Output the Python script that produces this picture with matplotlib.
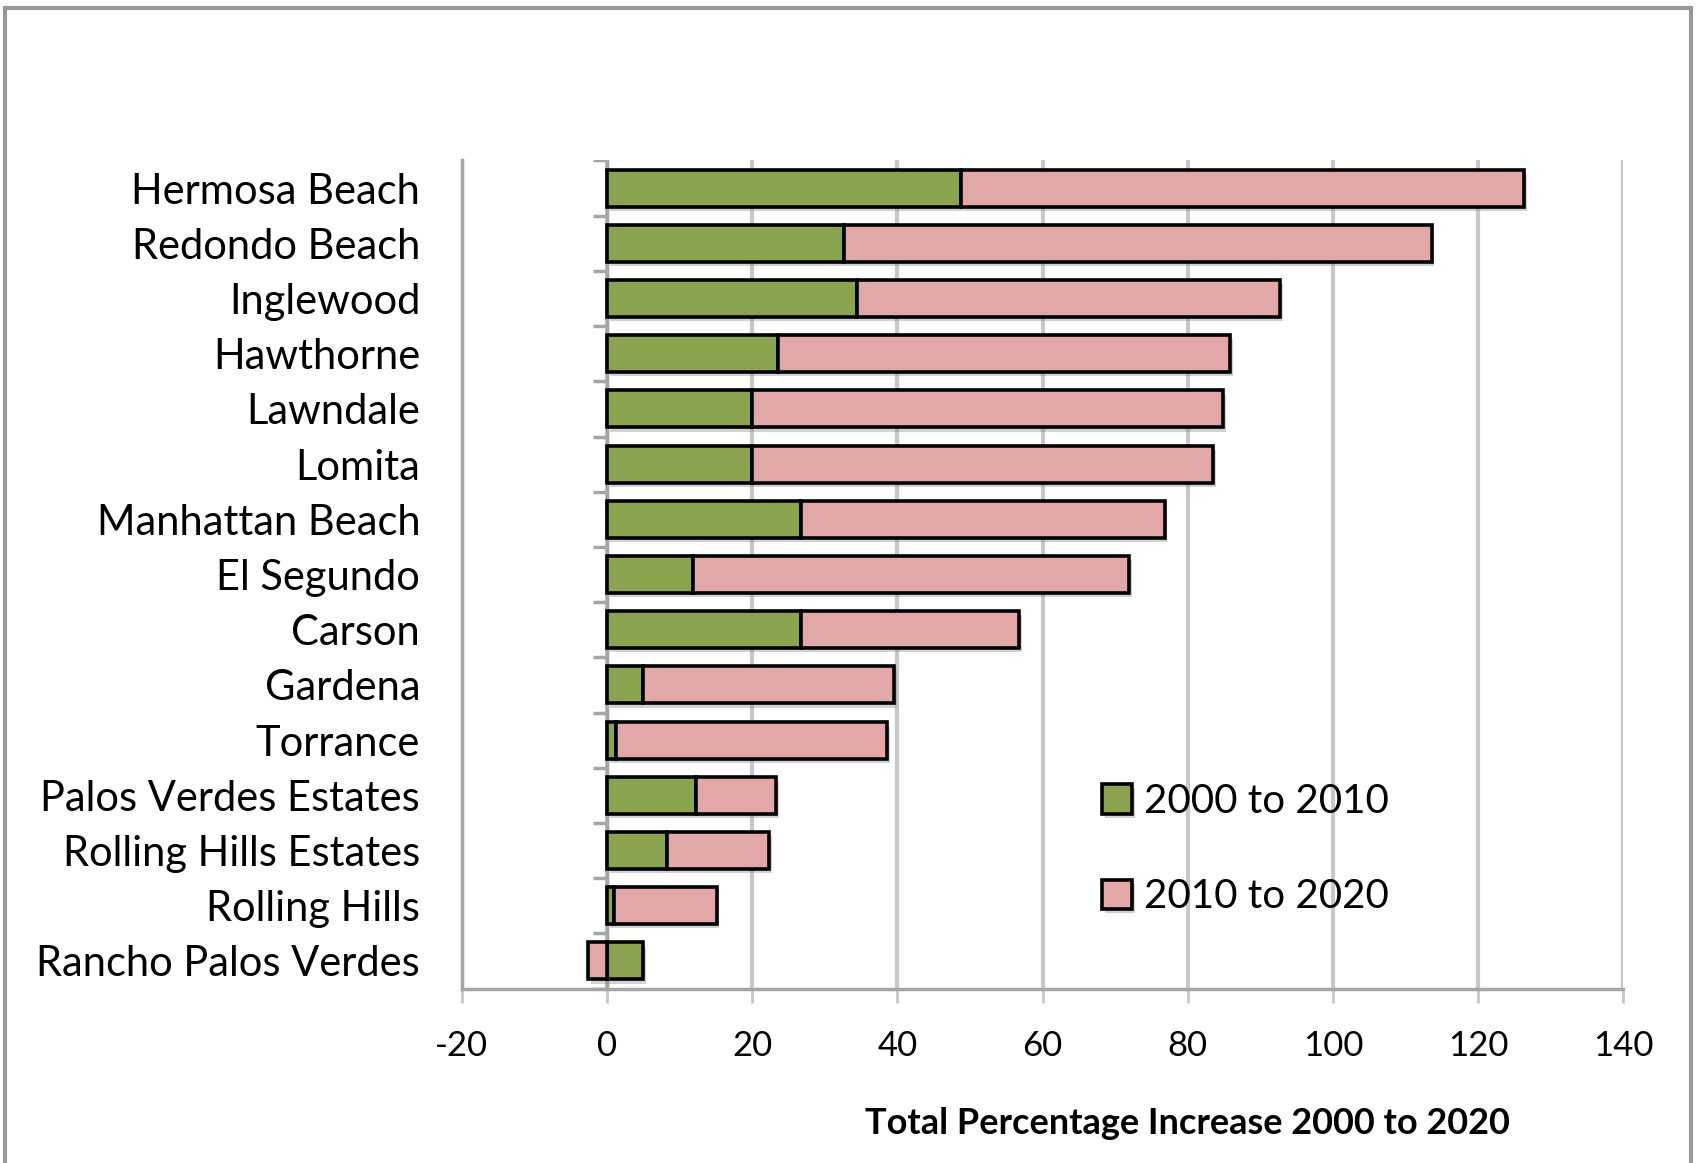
import numpy as np
import matplotlib.pyplot as plt
import matplotlib.patheffects as pe
from matplotlib.patches import Rectangle

plt.rcParams['font.family'] = ['Lato', 'DejaVu Sans']

# Data (percent change)
cities = ["Hermosa Beach", "Redondo Beach", "Inglewood", "Hawthorne", "Lawndale",
          "Lomita", "Manhattan Beach", "El Segundo", "Carson", "Gardena", "Torrance",
          "Palos Verdes Estates", "Rolling Hills Estates", "Rolling Hills",
          "Rancho Palos Verdes"]
growth_2000_2010 = [48.8, 32.7, 34.4, 23.6, 20.0, 20.0, 26.7, 11.8, 26.7, 5.0, 1.3,
                    12.3, 8.2, 0.9, 5.0]
growth_2010_2020 = [77.5, 80.9, 58.3, 62.2, 64.9, 63.5, 50.1, 60.1, 30.1, 34.5, 37.3,
                    11.0, 14.1, 14.2, -2.6]
xticks = [-20, 0, 20, 40, 60, 80, 100, 120, 140]

green = '#8aa34e'
pink = '#e2a8a8'
grid_gray = '#c8c8c8'

fig = plt.figure(figsize=(16.98, 11.63), dpi=100)
ax = fig.add_axes([0.272, 0.150, 0.684, 0.712])

y = np.arange(len(cities))
g = np.array(growth_2000_2010)
p = np.array(growth_2010_2020)
# Excel-style stacking: negative values stack from zero
p_left = np.where(p >= 0, g, 0)

shadow = [pe.SimplePatchShadow(offset=(2, -3), shadow_rgbFace='gray', alpha=0.35), pe.Normal()]
b1 = ax.barh(y, g, height=0.67, color=green, edgecolor='black', linewidth=2.6,
             label='2000 to 2010', zorder=3)
b2 = ax.barh(y, p, left=p_left, height=0.67, color=pink, edgecolor='black', linewidth=2.6,
             label='2010 to 2020', zorder=3)
for bar in list(b1) + list(b2):
    bar.set_path_effects(shadow)

ax.set_xlim(-20, 140)
ax.set_ylim(len(cities) - 0.5, -0.5)
ax.set_xticks(xticks)
ax.set_xticklabels([str(t) for t in xticks], fontsize=25)
ax.set_yticks(y)
ax.set_yticklabels(cities, fontsize=30)
ax.tick_params(axis='y', length=0, pad=30)
ax.tick_params(axis='x', length=10, width=2, color=grid_gray, pad=20)

ax.grid(axis='x', color=grid_gray, linewidth=3, zorder=0)
ax.set_axisbelow(True)
for s in ['top', 'right']:
    ax.spines[s].set_visible(False)
for s in ['left', 'bottom']:
    ax.spines[s].set_color('#a6a6a6')
    ax.spines[s].set_linewidth(2.5)

# category axis at zero with its tick marks
ax.axvline(0, color='#a6a6a6', linewidth=2.5, zorder=1)
ax.hlines(np.arange(len(cities) + 1) - 0.5, -2, 0, color='#a6a6a6', linewidth=2.5, zorder=1)

ax.set_xlabel('Total Percentage Increase 2000 to 2020', fontsize=26, fontweight='bold')
ax.xaxis.set_label_coords(0.625, -0.143)

leg = ax.legend(loc='upper left', bbox_to_anchor=(0.52, 0.292), frameon=False, fontsize=29,
                handlelength=0.75, handleheight=0.75, labelspacing=1.45, handletextpad=0.3)

# outer chart border
fig.patches.append(Rectangle((0.003, -0.05), 0.993, 1.043, transform=fig.transFigure,
                             fill=False, edgecolor='#999999', linewidth=3))

fig.savefig('out.png', dpi=100)
